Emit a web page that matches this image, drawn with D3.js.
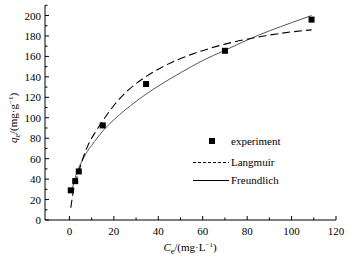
<!DOCTYPE html>
<html>
<head>
<meta charset="utf-8">
<style>
  body { margin: 0; background: #fff; }
  text { font-family: "Liberation Serif", "DejaVu Serif", serif; fill: #000; }
</style>
</head>
<body>
<script src="https://cdn.jsdelivr.net/npm/d3@7/dist/d3.min.js"></script>
<script>
// experiment points (Ce, qe)
const expC = [0.6, 2.6, 4.2, 15, 34.5, 70, 109];
const expQ = [29, 38, 47.5, 92.5, 133, 165.5, 196];
// Langmuir curve
const langC = [0.6, 2, 4, 6, 9, 12, 15, 20, 27, 35, 43, 55, 70, 85, 100, 109];
const langQ = [12, 31, 46, 60, 76, 87, 97, 112, 128, 141, 151, 162, 172, 179, 184, 186];
// Freundlich curve
const freuC = [1, 2, 4, 6, 8, 10, 15, 20, 30, 40, 50, 60, 70, 80, 90, 100, 109];
const freuQ = [27, 37, 50, 59, 67, 73, 87, 98, 116, 131, 144, 156, 166, 176, 185, 193, 200];
const xTicks = [0, 20, 40, 60, 80, 100, 120];
const yTicks = [0, 20, 40, 60, 80, 100, 120, 140, 160, 180, 200];

var width = 359, height = 262;
var svg = d3.select("body").append("svg")
    .attr("width", width)
    .attr("height", height);

var x = d3.scaleLinear().domain([-11, 120]).range([45, 336]);
var y = d3.scaleLinear().domain([0, 210]).range([220, 5.3]);

// axes lines
svg.append("line").attr("x1", x(-11)).attr("x2", x(120)).attr("y1", y(0)).attr("y2", y(0))
    .attr("stroke", "#000");
svg.append("line").attr("x1", x(-11)).attr("x2", x(-11)).attr("y1", y(0)).attr("y2", y(210))
    .attr("stroke", "#000");

// x ticks (inward)
svg.selectAll(".xt").data(d3.range(0, 121, 10)).enter().append("line")
    .attr("x1", d => x(d)).attr("x2", d => x(d))
    .attr("y1", y(0)).attr("y2", d => y(0) - (d % 20 == 0 ? 4 : 2.5))
    .attr("stroke", "#000");
svg.selectAll(".xl").data(xTicks).enter().append("text")
    .attr("x", d => x(d)).attr("y", 235)
    .attr("text-anchor", "middle").attr("font-size", 11)
    .text(d => d);

// y ticks (inward)
svg.selectAll(".yt").data(d3.range(0, 211, 10)).enter().append("line")
    .attr("x1", x(-11)).attr("x2", d => x(-11) + (d % 20 == 0 ? 4 : 2.5))
    .attr("y1", d => y(d)).attr("y2", d => y(d))
    .attr("stroke", "#000");
svg.selectAll(".yl").data(yTicks).enter().append("text")
    .attr("x", 41).attr("y", d => y(d) + 4)
    .attr("text-anchor", "end").attr("font-size", 11)
    .text(d => d);

// axis titles
var xt = svg.append("text").attr("x", 190).attr("y", 251)
    .attr("text-anchor", "middle").attr("font-size", 11);
xt.append("tspan").attr("font-style", "italic").text("C");
xt.append("tspan").attr("font-size", 8).attr("dy", 3).text("e");
xt.append("tspan").attr("dy", -3).text("/(mg·L");
xt.append("tspan").attr("font-size", 7).attr("dy", -4).text("−1");
xt.append("tspan").attr("dy", 4).text(")");

var yt = svg.append("text")
    .attr("transform", "translate(17,118) rotate(-90)")
    .attr("text-anchor", "middle").attr("font-size", 11);
yt.append("tspan").attr("font-style", "italic").text("q");
yt.append("tspan").attr("font-size", 8).attr("dy", 3).text("e");
yt.append("tspan").attr("dy", -3).text("/(mg·g");
yt.append("tspan").attr("font-size", 7).attr("dy", -4).text("−1");
yt.append("tspan").attr("dy", 4).text(")");

var line = d3.line().curve(d3.curveMonotoneX)
    .x(d => x(d[0])).y(d => y(d[1]));

// Freundlich (solid, gray)
svg.append("path")
    .attr("d", line(d3.zip(freuC, freuQ)))
    .attr("fill", "none").attr("stroke", "#555").attr("stroke-width", 1);

// Langmuir (dashed)
svg.append("path")
    .attr("d", line(d3.zip(langC, langQ)))
    .attr("fill", "none").attr("stroke", "#000").attr("stroke-width", 1.1)
    .attr("stroke-dasharray", "8,4");

// experiment points
svg.selectAll(".pt").data(d3.zip(expC, expQ)).enter().append("rect")
    .attr("x", d => x(d[0]) - 3).attr("y", d => y(d[1]) - 3)
    .attr("width", 6).attr("height", 6).attr("fill", "#000");

// legend
var lg = svg.append("g");
lg.append("rect").attr("x", 209).attr("y", 138).attr("width", 6).attr("height", 6).attr("fill", "#000");
lg.append("text").attr("x", 231).attr("y", 145).attr("font-size", 11).text("experiment");
lg.append("line").attr("x1", 193).attr("x2", 229).attr("y1", 162.5).attr("y2", 162.5)
    .attr("stroke", "#000").attr("stroke-dasharray", "3,2");
lg.append("text").attr("x", 231).attr("y", 166).attr("font-size", 11).text("Langmuir");
lg.append("line").attr("x1", 193).attr("x2", 229).attr("y1", 180.5).attr("y2", 180.5)
    .attr("stroke", "#000");
lg.append("text").attr("x", 231).attr("y", 184).attr("font-size", 11).text("Freundlich");
</script>
</body>
</html>
